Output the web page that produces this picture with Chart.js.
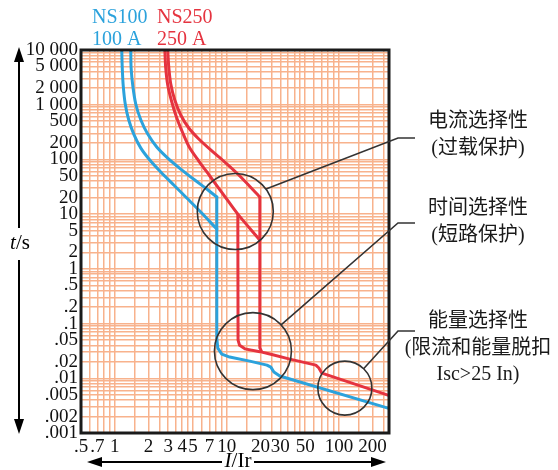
<!DOCTYPE html>
<html><head><meta charset="utf-8">
<script src="https://cdn.jsdelivr.net/npm/chart.js@4/dist/chart.umd.min.js"></script>
<style>html,body{margin:0;padding:0;background:#fff}#wrap{width:558px;height:470px;position:relative}</style>
</head><body><div id="wrap"><canvas id="c" width="558" height="470"></canvas></div>
<script>
// ---- tick labels ----
const xTickValues = [0.5, 0.7, 1, 2, 3, 4, 5, 7, 10, 20, 30, 50, 100, 200];
const xTickTexts  = ['.5', '.7', '1', '2', '3', '4', '5', '7', '10', '20', '30', '50', '100', '200'];
const yTickValues = [10000, 5000, 2000, 1000, 500, 200, 100, 50, 20, 10, 5, 2, 1, 0.5, 0.2, 0.1, 0.05, 0.02, 0.01, 0.005, 0.002, 0.001];
const yTickTexts  = ['10 000', '5 000', '2 000', '1 000', '500', '200', '100', '50', '20', '10', '5', '2', '1', '.5', '.2', '.1', '.05', '.02', '.01', '.005', '.002', '.001'];
// grid subdivisions per decade
const xGridSteps = [1, 1.5, 2, 2.5, 3, 3.5, 4, 4.5, 5, 6, 7, 8, 9];
const yGridSteps = [1, 2, 3, 4, 5, 6, 7, 8, 9];

// ---- NS100 (100 A) curves: I/Ir vs t/s ----
const ns100HighI = [1.39, 1.40, 1.45, 1.54, 1.71, 1.97, 2.37, 2.97, 3.88, 5.18, 6.63, 8.14];
const ns100HighT = [10000, 4690, 2198, 1030, 525, 291, 169, 106, 66.7, 42.0, 28.8, 20.6];
const ns100LowI  = [1.155, 1.167, 1.191, 1.241, 1.334, 1.478, 1.71, 2.054, 2.575, 3.364, 4.394, 5.74, 8.14];
const ns100LowT  = [10000, 4690, 2198, 1030, 525, 291, 161, 97.5, 58.9, 34.0, 19.7, 11.4, 5.34];
const ns100TailI = [8.14, 8.14, 8.31, 9.02, 10.6, 16.0, 22.8, 24.7, 26.3, 29.7, 274];
const ns100TailT = [20.6, 0.0543, 0.0356, 0.0277, 0.0244, 0.0206, 0.0174, 0.016, 0.013, 0.011, 0.00285];

// ---- NS250 (250 A) curves ----
const ns250HighI = [2.97, 3.035, 3.162, 3.433, 3.88, 4.579, 5.623, 7.345, 9.60, 12.54, 19.71];
const ns250HighT = [10000, 4887, 2390, 1219, 649, 375, 236, 143, 89.6, 54.1, 20.6];
const ns250LowI  = [2.80, 2.85, 2.97, 3.23, 3.578, 4.05, 4.674, 5.623, 7.05, 9.40, 12.54, 19.71];
const ns250LowT  = [10000, 4690, 2291, 1120, 571, 304, 161, 93.5, 49.8, 22.3, 10.0, 3.36];
const ns250TailI = [19.71, 19.71, 20.54, 24.2, 36.5, 62.3, 66.3, 70.5, 274];
const ns250TailT = [20.6, 0.036, 0.0301, 0.0277, 0.0224, 0.0174, 0.0154, 0.0124, 0.00493];
const ns250StepI = [12.54, 12.6, 13.0, 14.5, 19.7];
const ns250StepT = [10.0, 0.05, 0.04, 0.0345, 0.0306];

const BLUE = '#2ba2dc', RED = '#e5333f', GRID = '#f8b28c';

function pts(xs, ys) { return xs.map((x, i) => ({ x: x, y: ys[i] })); }
function gridVals(lo, hi, steps) {
  const out = [];
  for (let e = -4; e <= 5; e++) steps.forEach(m => {
    const v = +(m * Math.pow(10, e)).toPrecision(6);
    if (v >= lo * 0.9999 && v <= hi * 1.0001) out.push(v);
  });
  return out;
}
function lookup(v, vals, texts) {
  for (let i = 0; i < vals.length; i++) if (Math.abs(v - vals[i]) / vals[i] < 1e-6) return texts[i];
  return '';
}
const xMin = 0.5, xMax = 280, yMin = 0.001, yMax = 10000;
const xGrid = gridVals(xMin, xMax, xGridSteps);
const yGrid = gridVals(yMin, yMax, yGridSteps);

function ds(xs, ys, color, tension) {
  return { data: pts(xs, ys), borderColor: color, borderWidth: 3, pointRadius: 0, showLine: true,
           tension: tension, fill: false, borderCapStyle: 'round', borderJoinStyle: 'round' };
}

const serif = '"Liberation Serif", "Times New Roman", serif';
const cjk = '"Liberation Serif", "Noto Sans CJK SC", serif';

const circles = [
  { i: 11.9, t: 11.2, r: 38, ang: -36, to: [398, 138] },
  { i: 17.1, t: 0.0314, r: 38.5, ang: -43, to: [398, 223] },
  { i: 113, t: 0.00662, r: 27, ang: -46, to: [398, 331] }
];
const notes = [
  { y: 122, text: '电流选择性' }, { y: 149, text: '(过载保护)' },
  { y: 209, text: '时间选择性' }, { y: 236, text: '(短路保护)' },
  { y: 322, text: '能量选择性' }, { y: 349, text: '(限流和能量脱扣' }, { y: 375, text: 'Isc>25 In)' }
];

const deco = {
  id: 'deco',
  afterDraw(chart) {
    const ctx = chart.ctx, a = chart.chartArea, sx = chart.scales.x, sy = chart.scales.y;
    ctx.save();
    ctx.strokeStyle = '#1a1a1a'; ctx.lineWidth = 3;
    ctx.strokeRect(a.left, a.top, a.right - a.left, a.bottom - a.top);
    ctx.strokeStyle = '#333'; ctx.lineWidth = 1.6;
    circles.forEach(c => {
      const cx = sx.getPixelForValue(c.i), cy = sy.getPixelForValue(c.t);
      ctx.beginPath(); ctx.arc(cx, cy, c.r, 0, Math.PI * 2); ctx.stroke();
      const an = c.ang * Math.PI / 180;
      ctx.beginPath();
      ctx.moveTo(cx + c.r * Math.cos(an), cy + c.r * Math.sin(an));
      ctx.lineTo(c.to[0], c.to[1]);
      ctx.lineTo(c.to[0] + 17, c.to[1]);
      ctx.stroke();
    });
    ctx.fillStyle = '#1a1a1a'; ctx.font = '20px ' + cjk;
    ctx.textAlign = 'center'; ctx.textBaseline = 'middle';
    notes.forEach(n => ctx.fillText(n.text, 478, n.y));
    ctx.textAlign = 'left'; ctx.font = '20px ' + serif;
    ctx.fillStyle = BLUE; ctx.fillText('NS100', 92, 18); ctx.fillText('100 A', 92, 40);
    ctx.fillStyle = RED; ctx.fillText('NS250', 157, 18); ctx.fillText('250 A', 157, 40);
    ctx.strokeStyle = '#000'; ctx.fillStyle = '#000'; ctx.lineWidth = 2;
    const ax = 19;
    ctx.beginPath(); ctx.moveTo(ax, 58); ctx.lineTo(ax, 228); ctx.moveTo(ax, 260); ctx.lineTo(ax, 424); ctx.stroke();
    ctx.beginPath(); ctx.moveTo(ax, 47); ctx.lineTo(ax - 5, 62); ctx.lineTo(ax + 5, 62); ctx.closePath(); ctx.fill();
    ctx.beginPath(); ctx.moveTo(ax, 434); ctx.lineTo(ax - 5, 419); ctx.lineTo(ax + 5, 419); ctx.closePath(); ctx.fill();
    const ay = 462;
    ctx.beginPath(); ctx.moveTo(98, ay); ctx.lineTo(222, ay); ctx.moveTo(254, ay); ctx.lineTo(375, ay); ctx.stroke();
    ctx.beginPath(); ctx.moveTo(87, ay); ctx.lineTo(102, ay - 5); ctx.lineTo(102, ay + 5); ctx.closePath(); ctx.fill();
    ctx.beginPath(); ctx.moveTo(386, ay); ctx.lineTo(371, ay - 5); ctx.lineTo(371, ay + 5); ctx.closePath(); ctx.fill();
    ctx.textBaseline = 'middle'; ctx.textAlign = 'left';
    function mixed(it, rest, cx, cy) {
      ctx.font = 'italic 21px ' + serif; const w1 = ctx.measureText(it).width;
      ctx.font = '21px ' + serif; const w2 = ctx.measureText(rest).width;
      const x0 = cx - (w1 + w2) / 2;
      ctx.font = 'italic 21px ' + serif; ctx.fillText(it, x0, cy);
      ctx.font = '21px ' + serif; ctx.fillText(rest, x0 + w1, cy);
    }
    mixed('t', '/s', 20, 243);
    mixed('I', '/Ir', 238, 461);
    ctx.restore();
  }
};

new Chart(document.getElementById('c'), {
  type: 'scatter',
  data: {
    datasets: [
      ds(ns100HighI, ns100HighT, BLUE, 0.3),
      ds(ns100LowI, ns100LowT, BLUE, 0.3),
      ds(ns100TailI, ns100TailT, BLUE, 0),
      ds(ns250HighI, ns250HighT, RED, 0.3),
      ds(ns250LowI, ns250LowT, RED, 0.3),
      ds(ns250TailI, ns250TailT, RED, 0),
      ds(ns250StepI, ns250StepT, RED, 0)
    ]
  },
  options: {
    responsive: false, animation: false, devicePixelRatio: 1,
    layout: { padding: { left: 0, top: 50, right: 169, bottom: 0 } },
    plugins: { legend: { display: false }, tooltip: { enabled: false } },
    scales: {
      x: {
        type: 'logarithmic', min: xMin, max: xMax,
        afterBuildTicks: s => { s.ticks = xGrid.map(v => ({ value: v })); },
        afterFit: s => { s.height = 37; },
        grid: { color: GRID, lineWidth: 1.5, drawTicks: false },
        border: { display: false },
        ticks: { autoSkip: false, maxRotation: 0, minRotation: 0, padding: 3, color: '#111',
                 font: { family: serif, size: 19 },
                 callback: v => lookup(v, xTickValues, xTickTexts) }
      },
      y: {
        type: 'logarithmic', min: yMin, max: yMax,
        afterBuildTicks: s => { s.ticks = yGrid.map(v => ({ value: v })); },
        afterFit: s => { s.width = 81; },
        grid: { color: GRID, lineWidth: 1.5, drawTicks: false },
        border: { display: false },
        ticks: { autoSkip: false, padding: 3, color: '#111',
                 font: { family: serif, size: 19 },
                 callback: v => lookup(v, yTickValues, yTickTexts) }
      }
    }
  },
  plugins: [deco]
});
</script></body></html>
